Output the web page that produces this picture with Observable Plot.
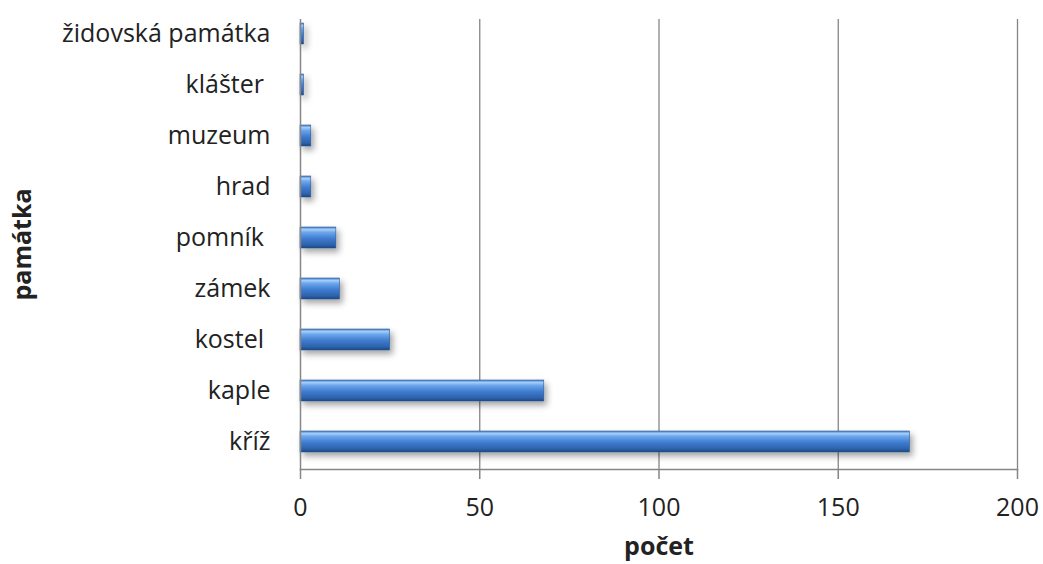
<!DOCTYPE html>
<html>
<head>
<meta charset="utf-8">
<script src="https://cdn.jsdelivr.net/npm/d3@7"></script>
<script src="https://cdn.jsdelivr.net/npm/@observablehq/plot@0.6"></script>
<style>
  html, body { margin: 0; padding: 0; background: #fff; }
  svg text { white-space: pre; }
</style>
</head>
<body>
<div id="chart"></div>
<script>
const categories = ["židovská památka", "klášter ", "muzeum", "hrad", "pomník ", "zámek", "kostel ", "kaple", "kříž"];
const counts = [1, 1, 3, 3, 10, 11, 25, 68, 170];
const xTicks = [0, 50, 100, 150, 200];
const xTitle = "počet";
const yTitle = "památka";

const data = categories.map((c, i) => ({category: c, count: counts[i]}));

const W = 1043, H = 564;
const chart = Plot.plot({
  width: W,
  height: H,
  marginLeft: 300,
  marginRight: 26,
  marginTop: 19,
  marginBottom: 95,
  style: {fontFamily: "'Open Sans', Lato, sans-serif", fontSize: "25px", color: "#222", background: "#fff"},
  x: {domain: [0, 200], ticks: xTicks},
  y: {domain: categories, range: [5.2, 469.6], paddingInner: 0.58, paddingOuter: 0.29},
  marks: [
    Plot.ruleX(xTicks.filter(d => d > 0), {stroke: "#868686", strokeWidth: 1.3}),
    Plot.barX(data, {x: "count", y: "category", fill: "url(#barGrad)", stroke: "#2c5a98", strokeWidth: 0.6, ariaLabel: "bar"}),
    Plot.ruleX([0], {stroke: "#868686", strokeWidth: 1.5}),
    Plot.frame({anchor: "bottom", stroke: "#868686", strokeWidth: 1.5}),
    Plot.axisX({ticks: xTicks, tickSize: 10, tickPadding: 19, stroke: "#868686", strokeWidth: 1.5, fontSize: 25, fill: "#222", label: xTitle, labelAnchor: "center", labelOffset: 85, labelArrow: "none"}),
    Plot.axisY({tickSize: 0, tickPadding: 30, fontSize: 25, fill: "#222", label: yTitle, labelAnchor: "center", labelOffset: 287, labelArrow: "none"})
  ]
});

// gradient + shadow definitions
const ns = "http://www.w3.org/2000/svg";
const defs = document.createElementNS(ns, "defs");
defs.innerHTML = `
<linearGradient id="barGrad" x1="0" y1="0" x2="0" y2="1">
  <stop offset="0%" stop-color="#4a7fc6"/>
  <stop offset="12%" stop-color="#a2cdf9"/>
  <stop offset="26%" stop-color="#6ca6ec"/>
  <stop offset="55%" stop-color="#3f7bd0"/>
  <stop offset="85%" stop-color="#2d63ab"/>
  <stop offset="100%" stop-color="#1c4480"/>
</linearGradient>
<filter id="barShadow" x="-5%" y="-30%" width="115%" height="190%">
  <feDropShadow dx="3" dy="4" stdDeviation="3" flood-color="#000" flood-opacity="0.35"/>
</filter>`;
chart.insertBefore(defs, chart.firstChild);
const barG = chart.querySelector('g[aria-label="bar"]');
if (barG) barG.setAttribute("filter", "url(#barShadow)");
// bold axis titles
chart.querySelectorAll('g[aria-label="x-axis label"] text, g[aria-label="y-axis label"] text').forEach(t => t.setAttribute("font-weight", "bold"));
document.getElementById("chart").appendChild(chart);
</script>
</body>
</html>
